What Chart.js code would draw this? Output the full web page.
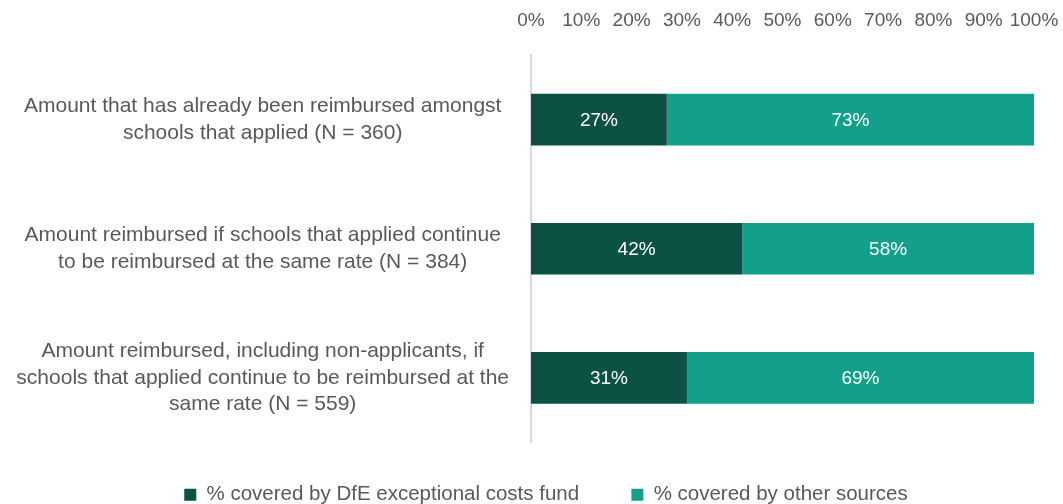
<!DOCTYPE html>
<html>
<head>
<meta charset="utf-8">
<script src="https://cdn.jsdelivr.net/npm/chart.js@4"></script>
<style>
  html, body { margin: 0; padding: 0; background: #fff; overflow: hidden; }
  #wrap { width: 1063px; height: 504px; }
</style>
</head>
<body>
<div id="wrap"><canvas id="fundChart" width="1063" height="504"></canvas></div>
<script>
const categories = [
    ['Amount that has already been reimbursed amongst', 'schools that applied (N = 360)'],
    ['Amount reimbursed if schools that applied continue', 'to be reimbursed at the same rate (N = 384)'],
    ['Amount reimbursed, including non-applicants, if', 'schools that applied continue to be reimbursed at the', 'same rate (N = 559)']
];
const dfeFund = [27, 42, 31];
const otherSources = [73, 58, 69];
const seriesNames = ['% covered by DfE exceptional costs fund', '% covered by other sources'];
const tickValues = [0, 10, 20, 30, 40, 50, 60, 70, 80, 90, 100];

const textGrey = '#595959';
const fontFamily = '"Liberation Sans", Arial, sans-serif';

// writes the % inside each bar segment
const barLabels = {
    id: 'barLabels',
    afterDatasetsDraw(chart) {
        const ctx = chart.ctx;
        ctx.save();
        ctx.fillStyle = '#ffffff';
        ctx.font = '19px ' + fontFamily;
        ctx.textAlign = 'center';
        ctx.textBaseline = 'middle';
        chart.data.datasets.forEach((ds, i) => {
            chart.getDatasetMeta(i).data.forEach((bar, j) => {
                const p = bar.getCenterPoint();
                ctx.fillText(ds.data[j] + '%', p.x, p.y + 1);
            });
        });
        ctx.restore();
    }
};

const ctx = document.getElementById('fundChart').getContext('2d');
const myChart = new Chart(ctx, {
    type: 'bar',
    data: {
        labels: categories,
        datasets: [{
            label: seriesNames[0],
            data: dfeFund,
            backgroundColor: '#0b5144',
            borderWidth: 0
        }, {
            label: seriesNames[1],
            data: otherSources,
            backgroundColor: '#13a08a',
            borderWidth: 0
        }]
    },
    options: {
        indexAxis: 'y',
        responsive: false,
        animation: false,
        // negative right padding widens the legend box so the row sits a bit right of centre
        layout: { padding: { top: 8, right: -29, left: 0, bottom: -11 } },
        datasets: {
            bar: { categoryPercentage: 1, barPercentage: 0.4 }
        },
        scales: {
            x: {
                position: 'top',
                stacked: true,
                min: 0,
                max: 100,
                afterBuildTicks: (scale) => {
                    scale.ticks = tickValues.map(v => ({ value: v }));
                },
                afterFit: (scale) => {
                    scale.height = 47;
                    scale.paddingLeft = 0;
                    scale.paddingRight = 29;
                },
                grid: { display: false },
                border: { display: false },
                ticks: {
                    color: textGrey,
                    font: { family: fontFamily, size: 19 },
                    padding: 15,
                    maxRotation: 0,
                    callback: (v) => v + '%'
                }
            },
            y: {
                stacked: true,
                afterFit: (scale) => {
                    scale.width = 531;
                    scale.paddingTop = 0;
                    scale.paddingBottom = 0;
                },
                grid: { display: false },
                border: { display: true, color: '#d9d9d9', width: 2 },
                ticks: {
                    color: textGrey,
                    font: { family: fontFamily, size: 21, lineHeight: 1.27 },
                    crossAlign: 'center',
                    padding: 14
                }
            }
        },
        plugins: {
            legend: {
                position: 'bottom',
                title: {
                    display: true,
                    text: ' ',
                    font: { size: 10 },
                    padding: { top: 29, bottom: 0 }
                },
                labels: {
                    color: textGrey,
                    font: { family: fontFamily, size: 20.5, lineHeight: 1 },
                    boxWidth: 12,
                    boxHeight: 12,
                    padding: 1,
                    generateLabels: (chart) => {
                        const items = Chart.defaults.plugins.legend.labels.generateLabels(chart);
                        items[0].text = items[0].text + '\u2003\u2003\u2002';
                        items.forEach(it => { it.lineWidth = 0; });
                        return items;
                    }
                }
            },
            tooltip: { enabled: false }
        }
    },
    plugins: [barLabels]
});
</script>
</body>
</html>
